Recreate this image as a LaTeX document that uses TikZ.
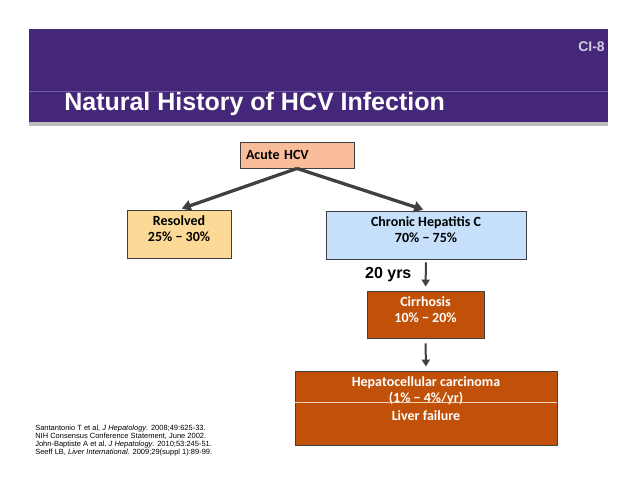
\documentclass[tikz,border=0pt]{standalone}
\usepackage{fontspec}
\setmainfont{Liberation Sans}
\newfontfamily\calibri{Carlito}
\usetikzlibrary{arrows.meta}

\definecolor{bannerpurple}{RGB}{69,39,122}
\definecolor{bannerline}{RGB}{112,90,165}
\definecolor{bannergray}{RGB}{190,190,190}
\definecolor{tagcolor}{RGB}{205,205,220}
\definecolor{acutefill}{RGB}{249,189,156}
\definecolor{resolvedfill}{RGB}{252,217,150}
\definecolor{chronicfill}{RGB}{198,224,251}
\definecolor{liverfill}{RGB}{193,81,8}
\definecolor{boxborder}{RGB}{64,64,64}
\definecolor{arrowgray}{RGB}{64,64,64}

\begin{document}
\begin{tikzpicture}[x=1pt, y=-1pt, >={Triangle[width=11pt,length=9pt]},
                    semithick]
    \tikzstyle{box}=[draw=boxborder, line width=0.9pt, inner sep=0pt,
                     align=center, font=\calibri\bfseries\fontsize{14}{16}\selectfont]
    \tikzstyle{liver}=[box, fill=liverfill, text=white]
    \tikzstyle{flow}=[->, draw=arrowgray, line width=3.3pt]
    \tikzstyle{stage arrow}=[->, draw=arrowgray, line width=2pt,
                             >={Triangle[width=8pt,length=7pt]}]

    \useasboundingbox (0,0) rectangle (638,493);

    % banner
    \fill[bannerpurple] (29,29) rectangle (608,122);
    \fill[bannergray] (29,122) rectangle (608,126);
    \draw[bannerline, line width=0.6pt] (29,91) -- (608,91);
    \node[anchor=base west, inner sep=0pt, text=white,
          font=\bfseries\fontsize{25}{30}\selectfont] (title) at (64,110)
          {Natural History of HCV Infection};
    \node[anchor=east, inner sep=0pt, text=tagcolor,
          font=\bfseries\fontsize{14}{16}\selectfont] (tag) at (605,47) {CI-8};

    % boxes
    \node[box, fill=acutefill, minimum width=114pt, minimum height=26pt,
          text width=102pt, align=left]                       (acute)     at (297,155)   {Acute HCV};
    \node[box, fill=resolvedfill, minimum width=104pt, minimum height=48pt,
          text depth=10pt]                                    (resolved)  at (179,234)   {Resolved\\25\% − 30\%};
    \node[box, fill=chronicfill, minimum width=200pt, minimum height=48pt,
          text depth=10pt]                                    (chronic)   at (426,235)   {Chronic Hepatitis C\\70\% − 75\%};
    \node[liver, minimum width=117pt, minimum height=47pt,
          text depth=9pt]                                     (cirrhosis) at (425.5,314.5) {Cirrhosis\\10\% − 20\%};
    \node[liver, minimum width=262pt, minimum height=74pt,
          text depth=18pt]                                    (hcc)       at (426,408)
          {Hepatocellular carcinoma\\(1\% − 4\%/yr)\\[2pt]Liver failure};
    \draw[white!75!liverfill, line width=0.6pt]
          ([yshift=6pt]hcc.west) -- ([yshift=6pt]hcc.east);

    % arrows
    \draw[flow, shorten >=3pt] (acute.south) -- (resolved.north);
    \draw[flow, shorten >=3pt] (acute.south) -- (chronic.north);
    \draw[stage arrow, shorten <=3pt, shorten >=4pt] (chronic.south)
          -- node[left=10pt, font=\bfseries\fontsize{16}{18}\selectfont] (years) {20 yrs}
          (cirrhosis.north);
    \draw[stage arrow, shorten <=5pt, shorten >=4pt] (cirrhosis.south) -- (hcc.north);

    % references
    \node[anchor=north west, inner sep=0pt, align=left,
          font=\fontsize{7.5}{8.2}\selectfont] (refs) at (35,424.5)
          {Santantonio T et al, \textit{J Hepatology}. 2008;49:625-33.\\
           NIH Consensus Conference Statement, June 2002.\\
           John-Baptiste A et al, \textit{J Hepatology}. 2010;53:245-51.\\
           Seeff LB, \textit{Liver International}. 2009;29(suppl 1):89-99.};
\end{tikzpicture}
\end{document}
